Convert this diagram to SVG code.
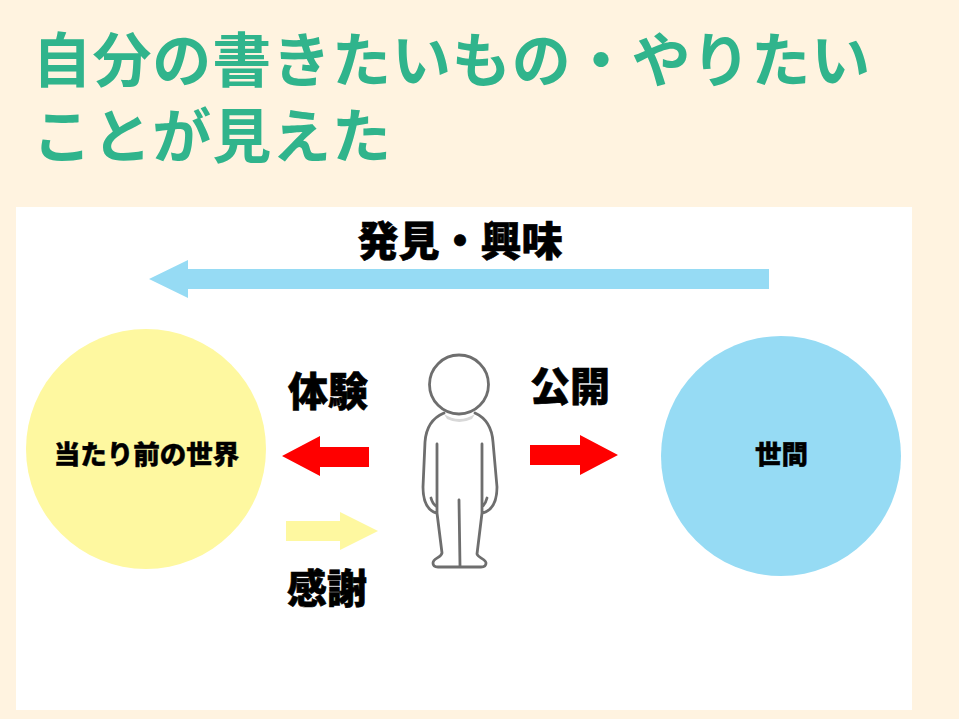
<svg xmlns="http://www.w3.org/2000/svg" width="959" height="719" viewBox="0 0 959 719">
<style>
text{font-family:"Noto Sans CJK JP","Noto Sans CJK SC",sans-serif}
.t{font-size:59px;font-weight:700;fill:#30b48c;letter-spacing:0.9px}
.l{font-size:40px;font-weight:900;fill:#000;text-anchor:middle;stroke:#000;stroke-width:.6px}
.c{font-size:26.5px;font-weight:900;fill:#000;text-anchor:middle;stroke:#000;stroke-width:.4px}
.b{fill:none;stroke:#6e6e6e;stroke-width:2.8;stroke-linejoin:round;stroke-linecap:round}
</style>
<rect width="959" height="719" fill="#fff3e0"/>
<rect x="16" y="207" width="896" height="503" fill="#fff"/>
<text class="t" x="32.500" y="82">自分の書きたいもの・やりたい</text>
<text class="t" x="32.500" y="158">ことが見えた</text>
<g id="top-label"><text class="l" x="460" y="256" style="font-size:41px">発見・興味</text></g>
<g id="connectors">
<polygon points="769,269 188,269 188,260 149,279 188,298 188,289 769,289" fill="#96dbf4"/>
<polygon points="369,447 320,447 320,436 282,456 320,476 320,467 369,467" fill="#ff0000"/>
<polygon points="530,445 580,445 580,435 618,455 580,475 580,465 530,465" fill="#ff0000"/>
<polygon points="286,521 340,521 340,512 378,531 340,550 340,541 286,541" fill="#fef8a0"/>
</g>
<g id="node-left"><circle cx="146" cy="449" r="120" fill="#fef8a0"/><text class="c" x="146.500" y="464">当たり前の世界</text></g>
<g id="node-right"><circle cx="781" cy="456" r="120" fill="#96dbf4"/><text class="c" x="781.500" y="464">世間</text></g>
<g id="label-taiken"><text class="l" x="328" y="406">体験</text></g>
<g id="label-koukai"><text class="l" x="570" y="401">公開</text></g>
<g id="label-kansha"><text class="l" x="327" y="603">感謝</text></g>
<g id="person">
<path d="M444 414Q459 424 475 414L472 419Q459 425 447 419Z" fill="#d8d8d8"/>
<circle class="b" cx="459" cy="384.500" r="29.500" fill="#fff"/>
<path class="b" d="M444 413C432 418 426 428 425 442L423 487C423 500 427 510 436 513M431 498C432 502 433 504 436 506M475 413C486 418 492 428 493 442L497 487C497 500 493 510 483 513M487 498C486 502 485 504 483 506M437 444L437 513L442 553C441 558 433 558 433 563C433 566 435 567 438 567L481 567C484 567 486 566 486 563C486 559 478 558 477 554L482 513L482 444M459 500L460 566"/>
</g>
</svg>
